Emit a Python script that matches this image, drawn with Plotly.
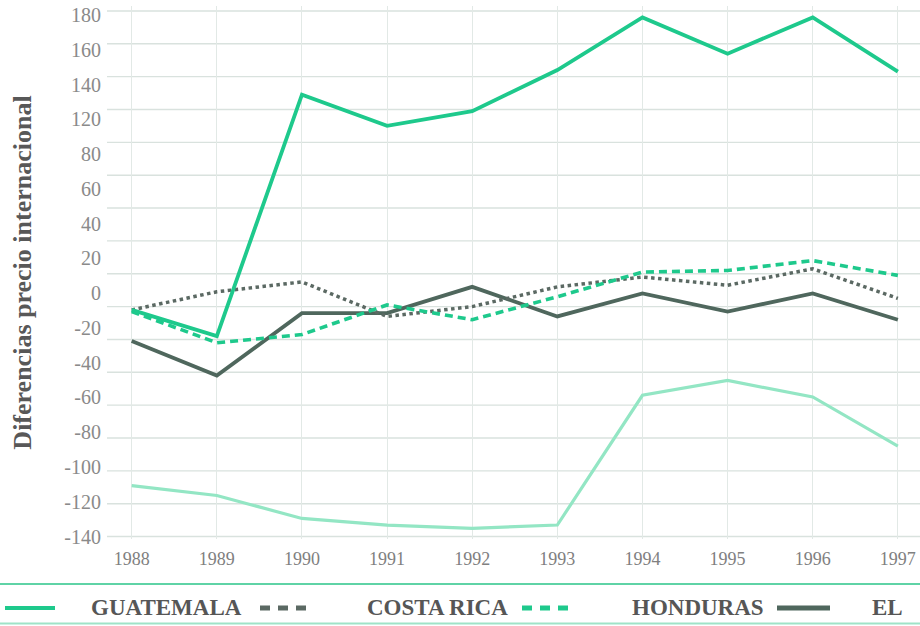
import numpy as np
import plotly.graph_objects as go

# ---------------- data ----------------
years = [1988, 1989, 1990, 1991, 1992, 1993, 1994, 1995, 1996, 1997]
guatemala = [-2, -18, 129, 110, 119, 144, 176, 154, 176, 143]
costa_rica = [-2, 9, 15, -6, 0, 12, 18, 13, 23, 5]
honduras = [-3, -22, -17, 1, -8, 6, 21, 22, 28, 19]
el_salvador = [-21, -42, -4, -4, 12, -6, 8, -3, 8, -8]
nicaragua = [-109, -115, -129, -133, -135, -133, -54, -45, -55, -85]

y_tick_labels = ["-140", "-120", "-100", "-80", "-60", "-40", "-20", "0",
                 "20", "40", "60", "80", "120", "140", "160", "180"]
grid_values = list(range(-140, 181, 20))
legend_labels = ["GUATEMALA", "COSTA RICA", "HONDURAS", "EL SALVADOR"]
legend_visible_text = ["GUATEMALA", "COSTA RICA", "HONDURAS", "EL"]
y_title = "Diferencias precio internacional"

# ---------------- style ----------------
W, H = 920, 626
ML, MR, MT, MB = 107, 0, 6, 87
GREEN = "#1ec98c"
LIGHT_GREEN = "#93e6c4"
DARK = "#4f675d"
DOT_DARK = "#5b6963"
GRID = "#d9e2de"
VGRID = "#e2e9e6"
SERIF = "Liberation Serif, Times New Roman, serif"
YR = [-141.5, 183]
XR = [1987.71, 1997.26]

fig = go.Figure()
fig.add_trace(go.Scatter(x=years, y=nicaragua, mode="lines", name="NICARAGUA",
                         line=dict(color=LIGHT_GREEN, width=3.2)))
fig.add_trace(go.Scatter(x=years, y=el_salvador, mode="lines", name=legend_labels[3],
                         line=dict(color=DARK, width=3.8)))
fig.add_trace(go.Scatter(x=years, y=costa_rica, mode="lines", name=legend_labels[1],
                         line=dict(color=DOT_DARK, width=3.5, dash="dot")))
fig.add_trace(go.Scatter(x=years, y=honduras, mode="lines", name=legend_labels[2],
                         line=dict(color=GREEN, width=3.6, dash="8px,5px")))
fig.add_trace(go.Scatter(x=years, y=guatemala, mode="lines", name=legend_labels[0],
                         line=dict(color=GREEN, width=3.8)))

plot_w = W - ML - MR
plot_h = H - MT - MB


def px_x(px):
    return (px - ML) / plot_w


def px_y(py):
    return (H - MB - py) / plot_h


shapes = []
annotations = []
# horizontal gridlines (true value scale, every 20)
for gv in grid_values:
    shapes.append(dict(type="line", xref="paper", yref="y", x0=0, x1=1, y0=gv, y1=gv,
                       layer="below", line=dict(color=GRID, width=1.4)))
# legend frame lines
shapes.append(dict(type="line", xref="paper", yref="paper", x0=px_x(0), x1=px_x(W),
                   y0=px_y(584), y1=px_y(584), line=dict(color="#5fd3a6", width=2.2)))
shapes.append(dict(type="line", xref="paper", yref="paper", x0=px_x(0), x1=px_x(W),
                   y0=px_y(623.5), y1=px_y(623.5), line=dict(color="#9fe3c8", width=2)))
ly = px_y(608)
legend_syms = [
    (5, 55, GREEN, "solid", 4),
    (260, 312, DOT_DARK, "10px,8px", 5),
    (522, 575, GREEN, "10px,8px", 5),
    (777, 830, DARK, "solid", 5),
]
for x0, x1, col, dash, w in legend_syms:
    shapes.append(dict(type="line", xref="paper", yref="paper", x0=px_x(x0), x1=px_x(x1),
                       y0=ly, y1=ly, line=dict(color=col, width=w, dash=dash)))
for lx, txt in zip([89, 365, 630, 870], legend_visible_text):
    annotations.append(dict(xref="paper", yref="paper", x=px_x(lx), y=ly,
                            text="<b>" + txt + "</b>", showarrow=False,
                            xanchor="left", yanchor="middle",
                            font=dict(family=SERIF, size=23, color="#565656")))

fig.update_layout(
    width=W, height=H,
    margin=dict(l=ML, r=MR, t=MT, b=MB),
    paper_bgcolor="white", plot_bgcolor="white",
    showlegend=False,
    xaxis=dict(range=XR, tickvals=years, ticktext=[str(y) for y in years],
               showgrid=True, gridcolor=VGRID, gridwidth=1.4, zeroline=False, showline=False,
               ticks="outside", ticklen=3, tickcolor="rgba(0,0,0,0)",
               tickfont=dict(family=SERIF, size=18, color="#808080")),
    yaxis=dict(range=YR,
               tickvals=list(np.linspace(-140, 177.5, len(y_tick_labels))),
               ticktext=y_tick_labels, showgrid=False, zeroline=False, showline=False,
               ticks="", ticklabelstandoff=5,
               tickfont=dict(family=SERIF, size=20, color="#8a8a8a"),
               title=dict(text="<b>" + y_title + "</b>", standoff=25,
                          font=dict(family=SERIF, size=26, color="#585858"))),
    shapes=shapes,
    annotations=annotations,
)

fig.write_html("out.html", config={"displayModeBar": False},
               post_script="document.body.style.margin='0';")
